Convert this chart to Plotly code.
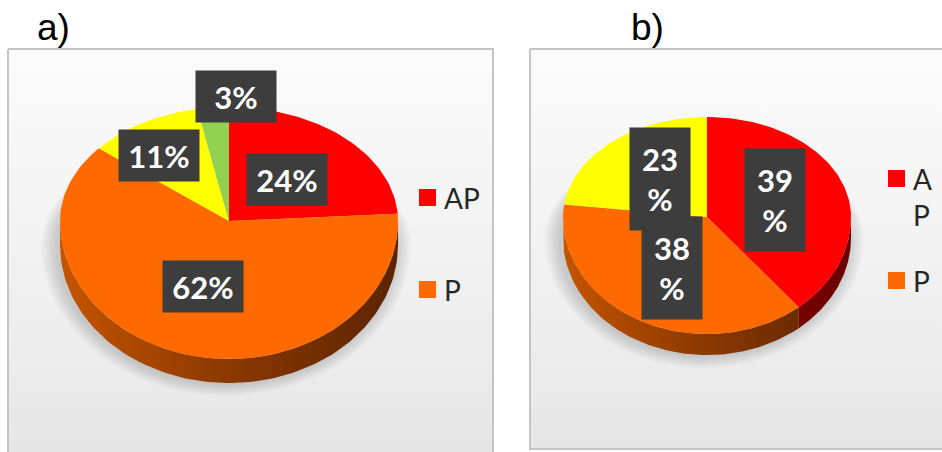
import numpy as np
import plotly.graph_objects as go

# ---- data ----
categories_a = ["AP", "P", "Other 1", "Other 2"]
values_a = [24, 62, 11, 3]

categories_b = ["AP", "P", "Other 1"]
values_b = [39, 38, 23]

legend_labels = ["AP", "P"]

# ---- style ----
slice_colors = {"AP": "#ff0000", "P": "#ff6a00", "Other 1": "#ffff00", "Other 2": "#92d050"}
side_scales = {
    "AP": [[0, "#b40000"], [1, "#6a0000"]],
    "P": [[0, "#c45400"], [0.5, "#8a3800"], [1, "#5c2300"]],
    "Other 1": [[0, "#b0b000"], [1, "#707000"]],
    "Other 2": [[0, "#5f8a36"], [1, "#3c5a20"]],
}
LABEL_BG = "#3d3d3d"
W, H = 942, 452

fig = go.Figure()


def panel(x0, x1, y0, y1):
    fig.add_trace(go.Scatter(
        x=[x0, x1, x1, x0, x0], y=[y0, y0, y1, y1, y0], mode="lines",
        line=dict(color="#c4c4c4", width=2), fill="toself",
        fillgradient=dict(type="vertical", start=y0, stop=452,
                          colorscale=[[0, "#fbfbfb"], [0.55, "#f1f1f1"], [1, "#e6e6e6"]]),
        hoverinfo="skip", showlegend=False))


def ellipse_point(geo, t):
    cx, cy, rx, ryt, ryb, _ = geo
    c = np.cos(t)
    ry = np.where(c > 0, ryt, ryb)
    return cx + rx * np.sin(t), cy - ry * c


def draw_pie(cats, vals, geo):
    cx, cy, rx, ryt, ryb, depth = geo
    total = float(sum(vals))
    edges = np.concatenate([[0], np.cumsum(vals)]) / total * 2 * np.pi

    # soft shadow beneath the disc, spreading mostly left and down
    tt = np.linspace(0, 2 * np.pi, 181)
    for k in range(7):
        grow = 2 + 2.3 * k
        c = np.cos(tt)
        sx = cx - 3 + (rx + grow) * np.sin(tt)
        sy = cy + depth + np.where(c > 0, -(ryt - 6) * c, -(ryb + grow * 0.8) * c)
        fig.add_trace(go.Scatter(x=sx, y=sy, mode="lines", line=dict(width=0),
                                 fill="toself", fillcolor="rgba(0,0,0,0.022)",
                                 hoverinfo="skip", showlegend=False))

    # visible side wall (front half)
    for i, cat in enumerate(cats):
        s0 = max(edges[i], np.pi / 2)
        s1 = min(edges[i + 1], 3 * np.pi / 2)
        if s1 <= s0:
            continue
        ts = np.linspace(s0, s1, 120)
        xs, ys = ellipse_point(geo, ts)
        px = np.concatenate([xs, xs[::-1], xs[:1]])
        py = np.concatenate([ys, ys[::-1] + depth, ys[:1]])
        fig.add_trace(go.Scatter(
            x=px, y=py, mode="lines", line=dict(width=0), fill="toself",
            fillgradient=dict(type="horizontal", start=cx - rx, stop=cx + rx,
                              colorscale=side_scales[cat]),
            hoverinfo="skip", showlegend=False))

    # top face slices
    for i, cat in enumerate(cats):
        n = max(8, int(240 * (edges[i + 1] - edges[i]) / (2 * np.pi)))
        ts = np.linspace(edges[i], edges[i + 1], n)
        xs, ys = ellipse_point(geo, ts)
        fig.add_trace(go.Scatter(
            x=np.concatenate([[cx], xs, [cx]]), y=np.concatenate([[cy], ys, [cy]]),
            mode="lines", line=dict(width=0), fill="toself",
            fillcolor=slice_colors[cat], name=cat,
            hoverinfo="name", showlegend=False))
    return edges


def data_labels(vals, edges, geo, radial, nudges, fmt, box_w, box_h):
    for i, v in enumerate(vals):
        mid = (edges[i] + edges[i + 1]) / 2
        cx, cy, rx, ryt, ryb, _ = geo
        c = np.cos(mid)
        ry = ryt if c > 0 else ryb
        lx = cx + radial[i] * rx * np.sin(mid) + nudges[i][0]
        ly = cy - radial[i] * ry * c + nudges[i][1]
        fig.add_annotation(
            x=lx, y=ly, xref="x", yref="y", text=fmt.format(v), showarrow=False,
            bgcolor=LABEL_BG, width=box_w, height=box_h, borderpad=2,
            font=dict(family="Lato", size=31, color="white", weight="bold"),
            align="center", valign="middle")


# panels
panel(8, 493, 49, 470)
panel(530, 960, 49, 449)

# pie a) and b): centre x, centre y, radius x, upper radius y, lower radius y, wall depth
geo_a = (229, 221, 169, 114, 138, 24)
geo_b = (707, 217, 144, 100, 117, 21)

edges_a = draw_pie(categories_a, values_a, geo_a)
edges_b = draw_pie(categories_b, values_b, geo_b)

data_labels(values_a, edges_a, geo_a, [0.5, 0.5, 0.76, 1.1],
            [(0, 0), (0, 0), (-5, 9), (24, 0)], "{}%", 76, 47)
data_labels(values_b, edges_b, geo_b, [0.5, 0.5, 0.5],
            [(0, 0), (0, 0), (1, 0)], "{}<br>%", 56, 98)

# panel titles
for txt, x in [("a)", 35), ("b)", 629)]:
    fig.add_annotation(x=x, y=27, xref="x", yref="y", text=txt, showarrow=False,
                       xanchor="left", yanchor="middle",
                       font=dict(family="Liberation Sans", size=37, color="black"))

# legends
legend_a = [(189, 198, legend_labels[0]), (281, 290, legend_labels[1])]
legend_b = [(170, 197, "A<br>P"), (272, 281, legend_labels[1])]
for lx, items in [(419, legend_a), (888, legend_b)]:
    for (top, ty, txt), cat in zip(items, legend_labels):
        fig.add_shape(type="rect", xref="x", yref="y", x0=lx, x1=lx + 17,
                      y0=top, y1=top + 17, fillcolor=slice_colors[cat], line=dict(width=0))
        fig.add_annotation(x=lx + 23, y=ty, xref="x", yref="y", text=txt, showarrow=False,
                           xanchor="left", yanchor="middle", align="left",
                           font=dict(family="Lato", size=28, color="#262626"))

fig.update_layout(
    width=W, height=H, margin=dict(l=0, r=0, t=0, b=0),
    paper_bgcolor="white", plot_bgcolor="white",
    xaxis=dict(range=[0, W], visible=False, fixedrange=True),
    yaxis=dict(range=[H, 0], visible=False, fixedrange=True),
    showlegend=False,
)

fig.write_html("out.html")
